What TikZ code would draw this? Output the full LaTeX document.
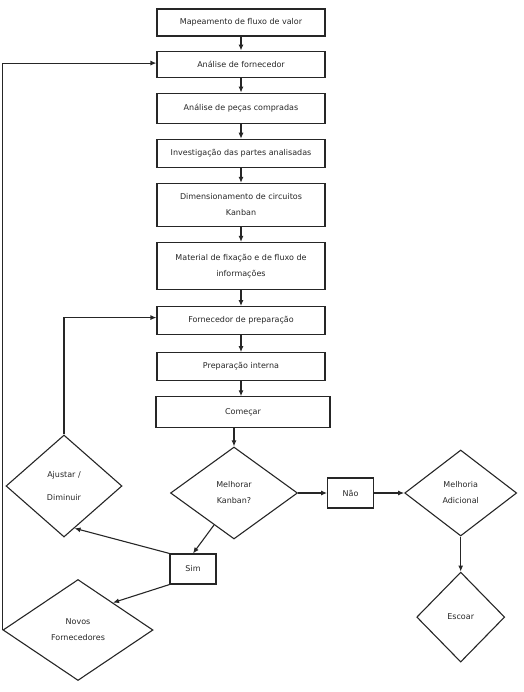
\documentclass[tikz,border=0pt]{standalone}
\usepackage{fontspec}
\setmainfont{DejaVu Sans}
\usetikzlibrary{positioning,shapes.geometric,arrows.meta}
\definecolor{traco}{gray}{0.15}
\definecolor{texto}{gray}{0.15}

\begin{document}
\begin{tikzpicture}[x=1pt, y=1pt, node distance=15pt,
  every node/.style={font=\fontsize{8}{16}\selectfont, text=texto},
  etapa/.style={draw=traco, line width=1.1pt, rectangle, minimum width=168pt, minimum height=28pt, align=center, inner sep=2pt},
  resposta/.style={draw=traco, line width=1.1pt, rectangle, minimum width=46pt, minimum height=30pt},
  decisao/.style={draw=traco, line width=1.1pt, diamond, inner sep=0pt, align=center},
  seta/.style={draw=traco, line width=1.1pt, -{Latex[length=6pt,width=5pt]}}]
\useasboundingbox (0,0) rectangle (523,-692);
\node[etapa, minimum height=27pt] (mapeamento) at (241,-22.5) {Mapeamento de fluxo de valor};
\node[etapa, minimum height=26pt] (fornecedor) [below=14pt of mapeamento] {Análise de fornecedor};
\node[etapa, minimum height=30pt] (pecas) [below=of fornecedor] {Análise de peças compradas};
\node[etapa] (investigacao) [below=of pecas] {Investigação das partes analisadas};
\node[etapa, minimum height=43pt] (dimensionamento) [below=of investigacao] {Dimensionamento de circuitos\\Kanban};
\node[etapa, minimum height=47pt] (material) [below=of dimensionamento] {Material de fixação e de fluxo de\\informações};
\node[etapa] (preparacao) [below=16pt of material] {Fornecedor de preparação};
\node[etapa] (interna) [below=17pt of preparacao] {Preparação interna};
\node[etapa, minimum width=174pt, minimum height=31pt] (comecar) [below=of interna, xshift=2pt] {Começar};
% decisoes
\node[decisao, minimum width=127pt, minimum height=92pt] (melhorar) at (234,-493) {Melhorar\\Kanban?};
\node[resposta] (nao) [right=29pt of melhorar] {Não};
\node[decisao, minimum width=112pt, minimum height=86pt] (adicional) [right=30pt of nao] {Melhoria\\Adicional};
\node[decisao, minimum width=88pt, minimum height=90pt] (escoar) [below=35pt of adicional] {Escoar};
\node[resposta] (sim) at (193,-569) {Sim};
\node[decisao, minimum width=116pt, minimum height=102pt] (ajustar) at (64,-486) {Ajustar /\\[7pt]Diminuir};
\node[decisao, minimum width=150pt, minimum height=101pt] (novos) at (78,-630) {Novos\\Fornecedores};

\draw[seta] (mapeamento) -- (fornecedor);
\draw[seta] (fornecedor) -- (pecas);
\draw[seta] (pecas) -- (investigacao);
\draw[seta] (investigacao) -- (dimensionamento);
\draw[seta] (dimensionamento) -- (material);
\draw[seta] (material) -- (preparacao);
\draw[seta] (preparacao) -- (interna);
\draw[seta] (interna.south) -- (interna.south |- comecar.north);
\draw[seta] (comecar.south -| melhorar.north) -- (melhorar.north);
\draw[seta] (melhorar.east) -- (nao.west);
\draw[seta] (nao.east) -- (adicional.west);
\draw[seta] (adicional.south) -- (escoar.north);
\draw[seta] (melhorar.238) -- (sim.north);
\draw[seta] (sim.north west) -- (ajustar.-76);
\draw[seta] (sim.south west) -- (novos.38);
% lacos de retorno
\draw[seta] (ajustar.north) |- ([yshift=3pt]preparacao.west);
\draw[seta] (novos.west) |- ([yshift=1pt]fornecedor.west);
\end{tikzpicture}
\end{document}
